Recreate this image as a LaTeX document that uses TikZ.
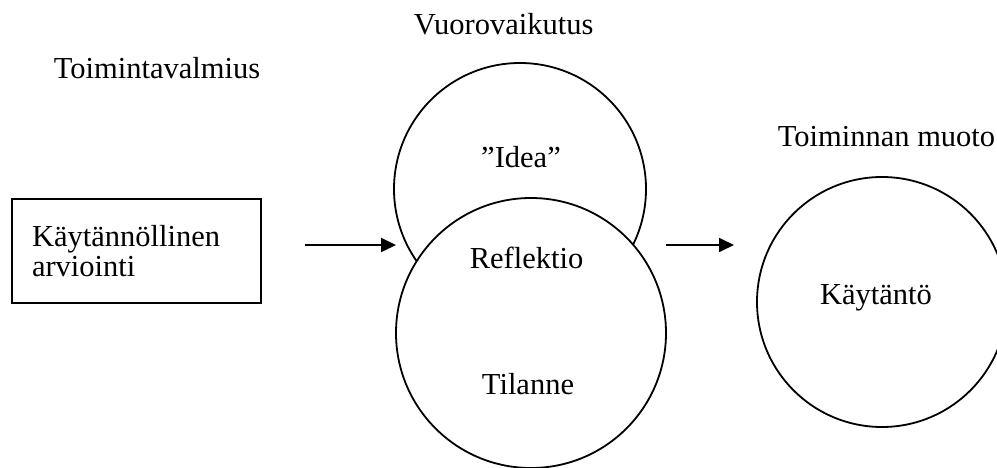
\documentclass[tikz,border=0pt]{standalone}
\usepackage{fontspec}
\setmainfont{Liberation Serif}
\usetikzlibrary{arrows.meta,positioning}

\begin{document}
\begin{tikzpicture}[>={Triangle[length=15pt,width=14pt]}, x=1pt, y=-1pt, line width=1.8pt,
    every node/.style={font=\fontsize{30.5}{29.5}\selectfont},
    txt/.style={anchor=base, inner sep=0pt},
    ring/.style={draw, circle, inner sep=0pt, fill=white}]
    \useasboundingbox (0,0) rectangle (997,468);
    \clip (0,0) rectangle (997,468);

    \node[draw, minimum width=249pt, minimum height=104pt, text width=209pt,
          inner xsep=20pt, align=left] (box) at (136.5,251) {Käytännöllinen\\arviointi};
    \node[ring, minimum size=252pt] (idea) at (520,189) {};
    \node[ring, minimum size=270pt] (tilanne) at (531,333) {};
    \node[ring, minimum size=250pt] (kaytanto) at (882,302) {};

    \node[txt, anchor=base west] (valmius) at (53,79) {Toimintavalmius};
    \node[txt, anchor=base west] (vuoro) at (413,35) {Vuorovaikutus};
    \node[txt, anchor=base west] (muoto) at (777,147) {Toiminnan muoto};
    \node[txt] (idealbl) at (521,168) {”Idea”};
    \node[txt] (reflektio) at (526.5,269) {Reflektio};
    \node[txt] (tilannelbl) at (528,394) {Tilanne};
    \node[txt] (kaytantolbl) at (876,304) {Käytäntö};

    \coordinate (a1) at (305,245);
    \coordinate (a2) at (396,245);
    \coordinate (b1) at (666,245);
    \coordinate (b2) at (734,245);

    \path[->]
    (a1) edge (a2)
    (b1) edge (b2);
  \end{tikzpicture}
\end{document}
